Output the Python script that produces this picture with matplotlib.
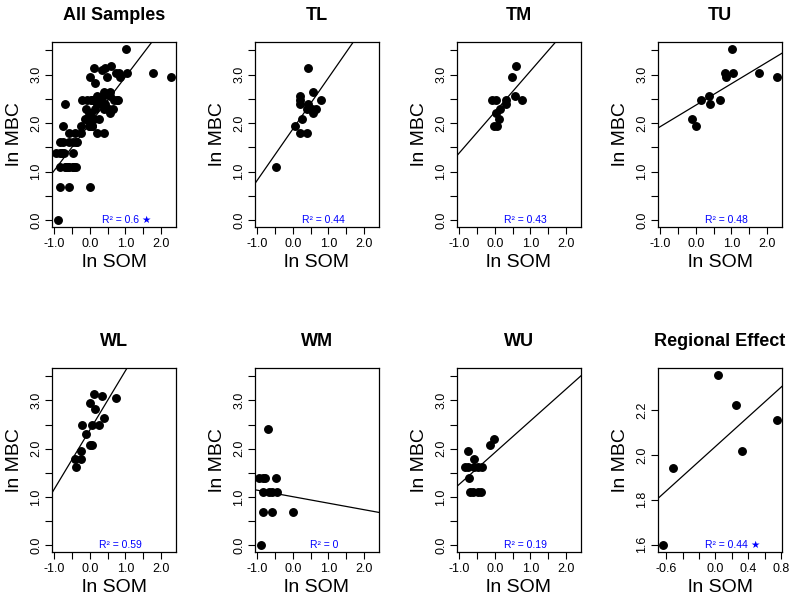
import numpy as np
import matplotlib
matplotlib.use("Agg")
import matplotlib.pyplot as plt

plt.rcParams["font.family"] = ["Liberation Sans", "DejaVu Sans"]

# ln SOM / ln MBC per group
tl_som = [0.42, 0.57, 0.78, 0.21, 0.21, 0.19, 0.43, 0.54, 0.66, 0.40, 0.57, 0.26, 0.07, 0.19, 0.40, -0.49]
tl_mbc = [3.14, 2.64, 2.48, 2.56, 2.48, 2.40, 2.40, 2.30, 2.30, 2.30, 2.20, 2.08, 1.95, 1.79, 1.79, 1.10]

tm_som = [0.60, 0.47, -0.08, 0.03, 0.31, 0.56, 0.77, 0.30, 0.13, 0.04, 0.11, -0.03, 0.06]
tm_mbc = [3.18, 2.94, 2.48, 2.48, 2.48, 2.56, 2.48, 2.40, 2.30, 2.20, 2.08, 1.95, 1.95]

tu_som = [1.02, 0.81, 0.85, 1.05, 1.79, 2.30, 0.36, 0.13, 0.67, 0.40, -0.10, 0.00]
tu_mbc = [3.53, 3.04, 2.94, 3.04, 3.04, 2.94, 2.56, 2.48, 2.48, 2.40, 2.08, 1.95]

wl_som = [0.11, 0.35, 0.73, 0.01, 0.13, 0.40, 0.07, 0.27, -0.21, -0.10, -0.01, 0.07, -0.26, -0.41, -0.26, -0.39]
wl_mbc = [3.14, 3.09, 3.04, 2.94, 2.83, 2.64, 2.48, 2.48, 2.48, 2.30, 2.08, 2.08, 1.95, 1.79, 1.79, 1.61]

wm_som = [-0.69, -0.95, -0.84, -0.78, -0.48, -0.84, -0.68, -0.58, -0.45, -0.84, -0.60, 0.00, -0.91]
wm_mbc = [2.40, 1.39, 1.39, 1.39, 1.39, 1.10, 1.10, 1.10, 1.10, 0.69, 0.69, 0.69, 0.00]

wu_som = [-0.76, -0.85, -0.75, -0.74, -0.59, -0.58, -0.47, -0.37, -0.70, -0.62, -0.47, -0.40, -0.14, -0.03]
wu_mbc = [1.95, 1.61, 1.61, 1.39, 1.79, 1.61, 1.61, 1.61, 1.10, 1.10, 1.10, 1.10, 2.08, 2.20]

region_som = [-0.645, -0.52, 0.03, 0.25, 0.32, 0.755]
region_mbc = [1.597, 1.94, 2.358, 2.222, 2.016, 2.156]

all_som = tl_som + tm_som + tu_som + wl_som + wm_som + wu_som
all_mbc = tl_mbc + tm_mbc + tu_mbc + wl_mbc + wm_mbc + wu_mbc

titles = ["All Samples", "TL", "TM", "TU", "WL", "WM", "WU", "Regional Effect"]
som_sets = [all_som, tl_som, tm_som, tu_som, wl_som, wm_som, wu_som, region_som]
mbc_sets = [all_mbc, tl_mbc, tm_mbc, tu_mbc, wl_mbc, wm_mbc, wu_mbc, region_mbc]

# fitted lines (intercept, slope) and R^2
fit_intercept = [1.99, 1.88, 2.23, 2.37, 2.39, 1.005, 1.92, 2.038]
fit_slope = [0.96, 1.05, 0.84, 0.44, 1.22, -0.134, 0.654, 0.331]
r2_text = ["0.6", "0.44", "0.43", "0.48", "0.59", "0", "0.19", "0.44"]
signif = [True, False, False, False, False, False, False, True]

x_ticks = [-1.0, -0.5, 0.0, 0.5, 1.0, 1.5, 2.0]
x_labels = ["-1.0", "", "0.0", "", "1.0", "", "2.0"]
y_ticks = [0.0, 0.5, 1.0, 1.5, 2.0, 2.5, 3.0, 3.5]
y_labels = ["0.0", "", "1.0", "", "2.0", "", "3.0", ""]
reg_x_ticks = [-0.6, -0.4, -0.2, 0.0, 0.2, 0.4, 0.6, 0.8]
reg_x_labels = ["-0.6", "", "", "0.0", "", "0.4", "", "0.8"]
reg_y_ticks = [1.6, 1.8, 2.0, 2.2]
reg_y_labels = ["1.6", "1.8", "2.0", "2.2"]

W, H = 795, 600
fig = plt.figure(figsize=(W / 100, H / 100), dpi=100)

lefts = [52, 255, 457, 658]
rows = [(42, 185), (368, 184)]  # top px, height px

for i in range(8):
    r, c = divmod(i, 4)
    top, h = rows[r]
    ax = fig.add_axes([lefts[c] / W, (H - top - h) / H, 124 / W, h / H])

    ax.plot(som_sets[i], mbc_sets[i], "o", color="black", markersize=5.4, zorder=3)
    ax.axline((0, fit_intercept[i]), slope=fit_slope[i], color="black", lw=0.9)

    if i < 7:
        ax.set_xlim(-1.07, 2.43)
        ax.set_ylim(-0.14, 3.67)
        ax.set_xticks(x_ticks, x_labels)
        ax.set_yticks(y_ticks, y_labels)
    else:
        ax.margins(0.04)
        ax.set_xticks(reg_x_ticks, reg_x_labels)
        ax.set_yticks(reg_y_ticks, reg_y_labels)

    ax.tick_params(direction="out", length=5, width=0.8, labelsize=9, pad=3)
    ax.tick_params(axis="y", labelrotation=90, pad=2)
    for lab in ax.get_yticklabels():
        lab.set_verticalalignment("center")
    for sp in ax.spines.values():
        sp.set_linewidth(0.9)

    ax.set_title(titles[i], fontsize=13, fontweight="bold", pad=16)
    ax.set_xlabel("ln SOM", fontsize=14, labelpad=3)
    ax.set_ylabel("ln MBC", fontsize=14, labelpad=5)

    t = ax.text(0.555, 0.037, "R\u00b2 = " + r2_text[i], transform=ax.transAxes,
                ha="center", va="center", fontsize=7.5, color="blue")
    if signif[i]:
        ax.annotate("\u2605", xy=(1, 0.5), xycoords=t, xytext=(1.5, 0),
                    textcoords="offset points", ha="left", va="center",
                    fontsize=7.5, color="blue", family=["DejaVu Sans"])

fig.savefig("out.png", dpi=100)
